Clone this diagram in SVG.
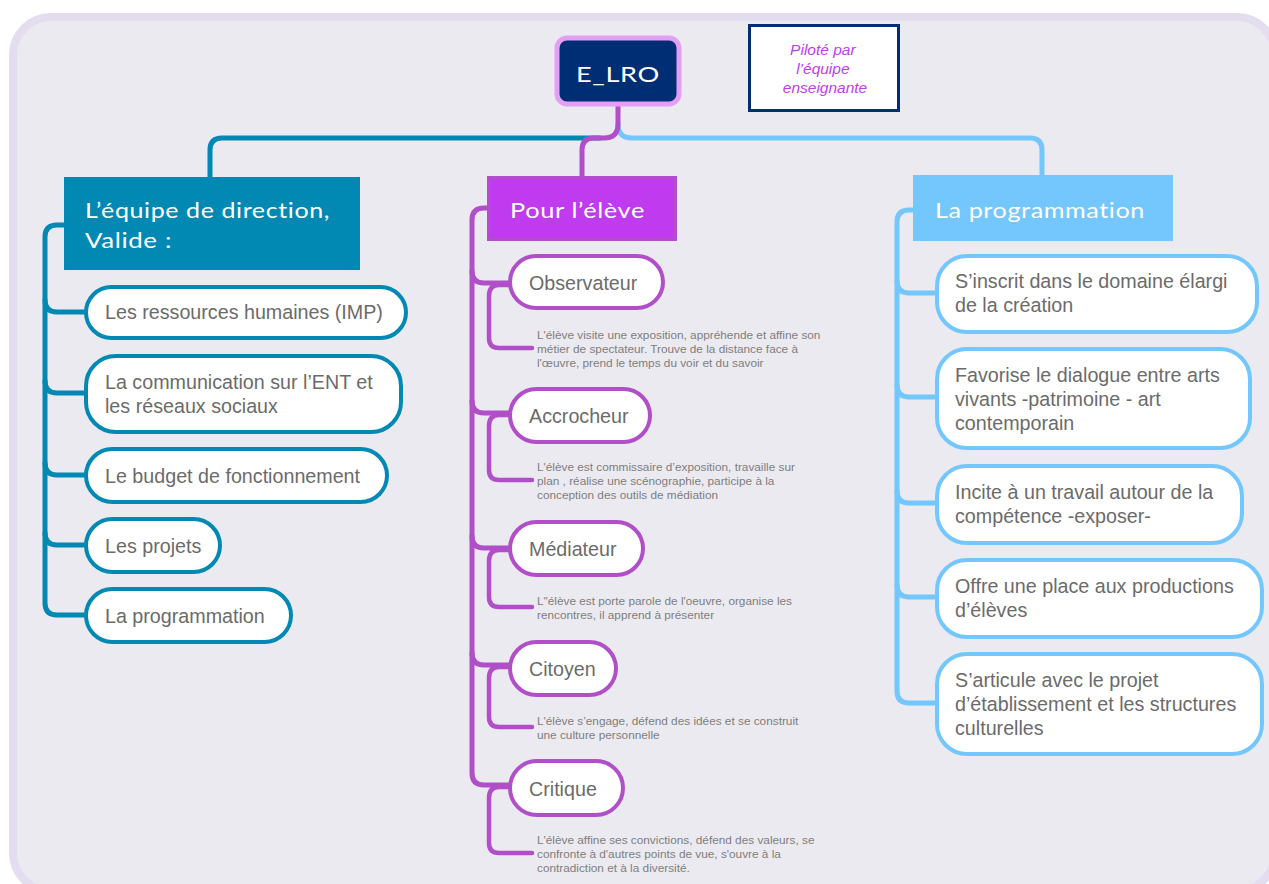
<svg xmlns="http://www.w3.org/2000/svg" width="1269" height="884" viewBox="0 0 1269 884">
<style>
.hand{font-family:Lato,"Open Sans","DejaVu Sans",sans-serif;fill:#ffffff;font-size:21px;letter-spacing:0.5px}
.t{font-family:"Liberation Sans",Arial,sans-serif;font-size:19.7px;fill:#6b6b6b}
.d{font-family:"Liberation Sans",Arial,sans-serif;font-size:11.8px;fill:#7e7e7e}
.c{fill:none;stroke-width:5;stroke-linecap:round;stroke-linejoin:round}
.cs{fill:none;stroke-width:4.5;stroke-linecap:round;stroke-linejoin:round}
.teal{stroke:#0189b4}
.purp{stroke:#b04fc8}
.blue{stroke:#73c7fc}
.box{fill:#ffffff;stroke-width:4}
</style>
<rect x="13" y="17" width="1262" height="874" rx="38" fill="#ebeaf0" stroke="#e4dcef" stroke-width="8"/>

<g id="connectors">
  <path class="c teal" d="M600 138 H222 Q210 138 210 150 V178"/>
  <path class="c blue" d="M618 124 Q618 138 632 138 H1030 Q1042 138 1042 150 V176"/>
  <path class="c purp" d="M618 104 V124 Q618 138 604 138 H594 Q582 138 582 150 V177"/>
  <path class="c teal" d="M64 225 H57 Q45 225 45 237 V300 Q45 312 57 312 H88"/>
  <path class="c teal" d="M45 300 V381 Q45 393 57 393 H88"/>
  <path class="c teal" d="M45 381 V463 Q45 475 57 475 H88"/>
  <path class="c teal" d="M45 463 V533 Q45 545 57 545 H88"/>
  <path class="c teal" d="M45 533 V603 Q45 615 57 615 H88"/>
  <path class="c purp" d="M487 208 H484 Q472 208 472 220 V271 Q472 283 484 283 H512"/>
  <path class="c purp" d="M472 271 V401 Q472 413 484 413 H512"/>
  <path class="c purp" d="M472 401 V536 Q472 548 484 548 H512"/>
  <path class="c purp" d="M472 536 V653 Q472 665 484 665 H512"/>
  <path class="c purp" d="M472 653 V773 Q472 785 484 785 H512"/>
  <path class="cs purp" d="M510 285 H499 Q489 285 489 296 V338 Q489 348 499 348 H532"/>
  <path class="cs purp" d="M510 415 H499 Q489 415 489 426 V470 Q489 480 499 480 H532"/>
  <path class="cs purp" d="M510 550 H499 Q489 550 489 561 V597 Q489 607 499 607 H532"/>
  <path class="cs purp" d="M510 667 H499 Q489 667 489 678 V717 Q489 727 499 727 H532"/>
  <path class="cs purp" d="M510 787 H499 Q489 787 489 798 V843 Q489 853 499 853 H532"/>
  <path class="c blue" d="M913 210 H909 Q897 210 897 222 V281 Q897 293 909 293 H939"/>
  <path class="c blue" d="M897 281 V385 Q897 397 909 397 H939"/>
  <path class="c blue" d="M897 385 V491 Q897 503 909 503 H939"/>
  <path class="c blue" d="M897 491 V585 Q897 597 909 597 H939"/>
  <path class="c blue" d="M897 585 V691 Q897 703 909 703 H939"/>
</g>

<g id="root">
  <rect x="557" y="38" width="122" height="66" rx="10" fill="#002e74" stroke="#e49ff5" stroke-width="5"/>
  <text class="hand" x="618" y="82" text-anchor="middle" font-size="23" textLength="84" lengthAdjust="spacingAndGlyphs">E_LRO</text>
</g>

<g id="pilote">
  <rect x="749.5" y="25.5" width="149" height="85" fill="#ffffff" stroke="#002e74" stroke-width="3"/>
  <text font-family="Liberation Sans, Arial, sans-serif" font-style="italic" font-size="15.5" fill="#c040e8" text-anchor="middle">
    <tspan x="825" y="55">Piloté par</tspan>
    <tspan x="825" y="74">l’équipe</tspan>
    <tspan x="825" y="93">enseignante</tspan>
  </text>
</g>

<g id="direction">
  <rect x="64" y="177" width="296" height="93" fill="#0189b4"/>
  <text class="hand" x="85" y="218" textLength="245" lengthAdjust="spacingAndGlyphs">L’équipe de direction,</text>
  <text class="hand" x="85" y="248" textLength="87" lengthAdjust="spacingAndGlyphs">Valide :</text>
</g>
<g id="d1"><rect class="box" x="86" y="287" width="320" height="51" rx="25.5" stroke="#0189b4"/><text class="t" x="105" y="319">Les ressources humaines (IMP)</text></g>
<g id="d2"><rect class="box" x="86" y="356" width="315" height="76" rx="30" stroke="#0189b4"/><text class="t" x="105" y="389">La communication sur l’ENT et</text><text class="t" x="105" y="413">les réseaux sociaux</text></g>
<g id="d3"><rect class="box" x="86" y="449" width="301" height="53" rx="26.5" stroke="#0189b4"/><text class="t" x="105" y="483">Le budget de fonctionnement</text></g>
<g id="d4"><rect class="box" x="86" y="519" width="134" height="53" rx="26.5" stroke="#0189b4"/><text class="t" x="105" y="553">Les projets</text></g>
<g id="d5"><rect class="box" x="86" y="589" width="205" height="53" rx="26.5" stroke="#0189b4"/><text class="t" x="105" y="623">La programmation</text></g>

<g id="eleve">
  <rect x="488.5" y="177.5" width="187" height="62" fill="#c03aef" stroke="#b04fc8" stroke-width="3"/>
  <text class="hand" x="510" y="218" textLength="135" lengthAdjust="spacingAndGlyphs">Pour l’élève</text>
</g>
<g id="e1"><rect class="box" x="510" y="256" width="153" height="52" rx="26" stroke="#b04fc8"/><text class="t" x="529" y="290">Observateur</text></g>
<g id="e1d"><text class="d" x="537" y="339">L'élève visite une exposition, appréhende et affine son</text><text class="d" x="537" y="353">métier de spectateur. Trouve de la distance face à</text><text class="d" x="537" y="367">l'œuvre, prend le temps du voir et du savoir</text></g>
<g id="e2"><rect class="box" x="510" y="389" width="140" height="53" rx="26.5" stroke="#b04fc8"/><text class="t" x="529" y="423">Accrocheur</text></g>
<g id="e2d"><text class="d" x="537" y="471">L'élève est commissaire d’exposition, travaille sur</text><text class="d" x="537" y="485">plan , réalise une scénographie, participe à la</text><text class="d" x="537" y="499">conception des outils de médiation</text></g>
<g id="e3"><rect class="box" x="510" y="522" width="133" height="53" rx="26.5" stroke="#b04fc8"/><text class="t" x="529" y="556">Médiateur</text></g>
<g id="e3d"><text class="d" x="537" y="605">L"élève est porte parole de l'oeuvre, organise les</text><text class="d" x="537" y="619">rencontres, il apprend à présenter</text></g>
<g id="e4"><rect class="box" x="510" y="642" width="106" height="53" rx="26.5" stroke="#b04fc8"/><text class="t" x="529" y="676">Citoyen</text></g>
<g id="e4d"><text class="d" x="537" y="725">L'élève s’engage, défend des idées et se construit</text><text class="d" x="537" y="739">une culture personnelle</text></g>
<g id="e5"><rect class="box" x="510" y="761" width="113" height="54" rx="27" stroke="#b04fc8"/><text class="t" x="529" y="796">Critique</text></g>
<g id="e5d"><text class="d" x="537" y="844">L'élève affine ses convictions, défend des valeurs, se</text><text class="d" x="537" y="858">confronte à d'autres points de vue, s'ouvre à la</text><text class="d" x="537" y="872">contradiction et à la diversité.</text></g>

<g id="prog">
  <rect x="913" y="175" width="260" height="66" fill="#73c7fc"/>
  <text class="hand" x="935" y="218" textLength="210" lengthAdjust="spacingAndGlyphs">La programmation</text>
</g>
<g id="p1"><rect class="box" x="937" y="256" width="320" height="76" rx="30" stroke="#73c7fc"/><text class="t" x="955" y="288">S’inscrit dans le domaine élargi</text><text class="t" x="955" y="312">de la création</text></g>
<g id="p2"><rect class="box" x="937" y="349" width="313" height="99" rx="30" stroke="#73c7fc"/><text class="t" x="955" y="382">Favorise le dialogue entre arts</text><text class="t" x="955" y="406">vivants -patrimoine - art</text><text class="t" x="955" y="430">contemporain</text></g>
<g id="p3"><rect class="box" x="937" y="466" width="305" height="77" rx="30" stroke="#73c7fc"/><text class="t" x="955" y="499">Incite à un travail autour de la</text><text class="t" x="955" y="523">compétence -exposer-</text></g>
<g id="p4"><rect class="box" x="937" y="560" width="325" height="77" rx="30" stroke="#73c7fc"/><text class="t" x="955" y="593">Offre une place aux productions</text><text class="t" x="955" y="617">d’élèves</text></g>
<g id="p5"><rect class="box" x="937" y="654" width="325" height="100" rx="30" stroke="#73c7fc"/><text class="t" x="955" y="687">S’articule avec le projet</text><text class="t" x="955" y="711">d’établissement et les structures</text><text class="t" x="955" y="735">culturelles</text></g>
</svg>
